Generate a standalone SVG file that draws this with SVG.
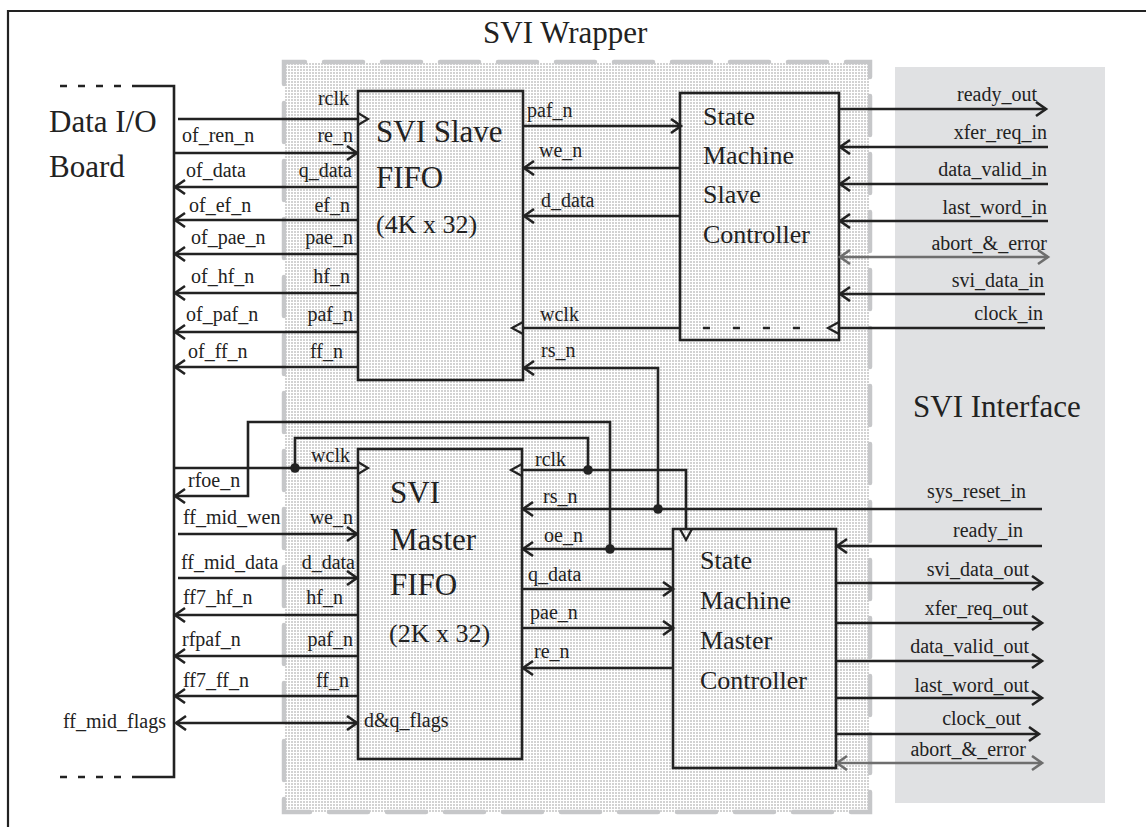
<svg xmlns="http://www.w3.org/2000/svg" width="1146" height="827" viewBox="0 0 1146 827">
<style>
text{font-family:"Liberation Serif","Times New Roman",serif;fill:#222}
.s{font-size:20px}
.b{font-size:31px}
.m{font-size:26px}
.e{text-anchor:end}
.ln{stroke:#222;stroke-width:2.6;fill:none}
.g{stroke:#6e6e6e;stroke-width:2.6;fill:none}
.box{stroke:#222;stroke-width:2.6;fill:none}
.ck{stroke:#222;stroke-width:2.2;fill:none;stroke-linejoin:miter}
.r{marker-end:url(#ar)}
.gr{marker-end:url(#ag);marker-start:url(#ag)}
.dd{marker-end:url(#ar);marker-start:url(#ar)}
</style>
<defs>
<pattern id="dots" width="3" height="3" patternUnits="userSpaceOnUse">
<rect width="3" height="3" fill="#fff"/>
<rect width="2" height="2" fill="#d2d2d2"/>
</pattern>
<marker id="ar" markerUnits="userSpaceOnUse" markerWidth="16" markerHeight="18" refX="11" refY="8" orient="auto-start-reverse" viewBox="0 0 16 18">
<path d="M1,1 L11,8 L1,15" fill="none" stroke="#222" stroke-width="2.6"/>
</marker>
<marker id="ag" markerUnits="userSpaceOnUse" markerWidth="16" markerHeight="18" refX="11" refY="8" orient="auto-start-reverse" viewBox="0 0 16 18">
<path d="M1,1 L11,8 L1,15" fill="none" stroke="#6e6e6e" stroke-width="2.6"/>
</marker>
</defs>
<rect width="1146" height="827" fill="#fff"/>
<path d="M8,830 V11 H1150" fill="none" stroke="#222" stroke-width="2.2"/>

<g id="svi-interface">
<rect x="895" y="67" width="210" height="736" fill="#e0e1e3"/>
<text class="b" x="913" y="417">SVI Interface</text>
</g>

<g id="svi-wrapper">
<rect x="284" y="62" width="586" height="750" fill="url(#dots)"/>
<rect x="284" y="62" width="586" height="750" fill="none" stroke="#c6c7c9" stroke-width="4.5" stroke-dasharray="39 19" stroke-dashoffset="18" stroke-linecap="round"/>
<text class="b" x="483" y="43">SVI Wrapper</text>
</g>

<g id="data-io-board">
<path class="ln" d="M60,86 H121 M60,777 H121" stroke-dasharray="7 11"/>
<path class="ln" d="M132,86 H174 V777 H132"/>
<text class="b" x="49" y="132">Data I/O</text>
<text class="b" x="49" y="177">Board</text>
</g>

<g id="slave-fifo">
<rect class="box" x="358" y="91" width="165" height="289"/>
<text class="b" x="376" y="142">SVI Slave</text>
<text class="b" x="376" y="188">FIFO</text>
<text class="m" x="376" y="233">(4K x 32)</text>
</g>

<g id="slave-sm">
<rect class="box" x="680" y="93" width="159" height="247"/>
<text class="m" x="703" y="125">State</text>
<text class="m" x="703" y="164">Machine</text>
<text class="m" x="703" y="203">Slave</text>
<text class="m" x="703" y="243">Controller</text>
<path class="ln" d="M703,328 H800" stroke-dasharray="7 23"/>
</g>

<g id="master-fifo">
<rect class="box" x="358" y="449" width="164" height="310"/>
<text class="b" x="390" y="503">SVI</text>
<text class="b" x="390" y="550">Master</text>
<text class="b" x="390" y="595">FIFO</text>
<text class="m" x="389" y="642">(2K x 32)</text>
</g>

<g id="master-sm">
<rect class="box" x="673" y="529" width="163" height="239"/>
<text class="m" x="700" y="569">State</text>
<text class="m" x="700" y="609">Machine</text>
<text class="m" x="700" y="649">Master</text>
<text class="m" x="700" y="689">Controller</text>
</g>

<g id="connectors">
<path class="ln" d="M178,119 H358"/>
<path class="ck" d="M358,113 L368,119 L358,125"/>
<path class="ln r" d="M175,153 H357"/>
<path class="ln r" d="M358,187 H175"/>
<path class="ln r" d="M358,220 H175"/>
<path class="ln r" d="M358,254 H175"/>
<path class="ln r" d="M358,293 H175"/>
<path class="ln r" d="M358,332 H175"/>
<path class="ln r" d="M358,367 H175"/>
<path class="ln r" d="M523,126 H681"/>
<path class="ln r" d="M680,168 H524"/>
<path class="ln r" d="M680,216 H524"/>
<path class="ln" d="M680,328 H523"/>
<path class="ck" d="M523,322 L512,328 L523,334"/>
<path class="ln r" d="M658,509 V368 H524"/>
<path class="ln r" d="M839,109 H1046"/>
<path class="ln r" d="M1048,147 H840"/>
<path class="ln r" d="M1048,184 H840"/>
<path class="ln r" d="M1048,221 H840"/>
<path class="g gr" d="M840,257 H1048"/>
<path class="ln r" d="M1045,294 H840"/>
<path class="ln" d="M1045,328 H839"/>
<path class="ck" d="M839,322 L828,328 L839,334"/>
<path class="ln" d="M174,468 H358"/>
<path class="ck" d="M358,462 L368,468 L358,474"/>
<path class="ln" d="M295,468 V438 H588 V470"/>
<path class="ln r" d="M610,549 V422 H248 V496 H175"/>
<path class="ln r" d="M178,534 H357"/>
<path class="ln r" d="M178,578 H357"/>
<path class="ln r" d="M358,615 H175"/>
<path class="ln r" d="M358,656 H175"/>
<path class="ln r" d="M358,696 H175"/>
<path class="ln dd" d="M176,723 H357"/>
<path class="ln" d="M522,470 H686 V529"/>
<path class="ck" d="M522,464 L511,470 L522,476"/>
<path class="ck" d="M680,529 L686,540 L692,529"/>
<path class="ln r" d="M1042,509 H523"/>
<path class="ln r" d="M673,549 H523"/>
<path class="ln r" d="M522,589 H673"/>
<path class="ln r" d="M522,628 H673"/>
<path class="ln r" d="M673,668 H523"/>
<path class="ln r" d="M1042,546 H837"/>
<path class="ln r" d="M836,583 H1042"/>
<path class="ln r" d="M836,623 H1042"/>
<path class="ln r" d="M836,661 H1042"/>
<path class="ln r" d="M836,698 H1042"/>
<path class="ln r" d="M836,734 H1039"/>
<path class="g gr" d="M837,763 H1042"/>
<circle cx="295" cy="468" r="4.8" fill="#222"/>
<circle cx="588" cy="470" r="4.8" fill="#222"/>
<circle cx="610" cy="549" r="4.8" fill="#222"/>
<circle cx="658" cy="509" r="4.8" fill="#222"/>
</g>

<g id="labels">
<text class="s e" x="349" y="105">rclk</text>
<text class="s" x="182" y="142">of_ren_n</text>
<text class="s e" x="353" y="142">re_n</text>
<text class="s" x="186" y="177">of_data</text>
<text class="s e" x="352" y="177">q_data</text>
<text class="s" x="189" y="212">of_ef_n</text>
<text class="s e" x="350" y="212">ef_n</text>
<text class="s" x="191" y="244">of_pae_n</text>
<text class="s e" x="353" y="244">pae_n</text>
<text class="s" x="191" y="283">of_hf_n</text>
<text class="s e" x="350" y="283">hf_n</text>
<text class="s" x="186" y="321">of_paf_n</text>
<text class="s e" x="353" y="321">paf_n</text>
<text class="s" x="188" y="358">of_ff_n</text>
<text class="s e" x="343" y="358">ff_n</text>

<text class="s" x="527" y="117">paf_n</text>
<text class="s" x="539" y="157">we_n</text>
<text class="s" x="541" y="207">d_data</text>
<text class="s" x="540" y="321">wclk</text>
<text class="s" x="541" y="357">rs_n</text>

<text class="s e" x="1037" y="101">ready_out</text>
<text class="s e" x="1047" y="139">xfer_req_in</text>
<text class="s e" x="1047" y="176">data_valid_in</text>
<text class="s e" x="1047" y="214">last_word_in</text>
<text class="s e" x="1047" y="250">abort_&amp;_error</text>
<text class="s e" x="1044" y="287">svi_data_in</text>
<text class="s e" x="1043" y="320">clock_in</text>

<text class="s e" x="350" y="462">wclk</text>
<text class="s" x="188" y="487">rfoe_n</text>
<text class="s" x="183" y="524">ff_mid_wen</text>
<text class="s e" x="353" y="524">we_n</text>
<text class="s" x="181" y="569">ff_mid_data</text>
<text class="s e" x="355" y="569">d_data</text>
<text class="s" x="183" y="604">ff7_hf_n</text>
<text class="s e" x="343" y="604">hf_n</text>
<text class="s" x="182" y="646">rfpaf_n</text>
<text class="s e" x="353" y="646">paf_n</text>
<text class="s" x="183" y="687">ff7_ff_n</text>
<text class="s e" x="349" y="687">ff_n</text>
<text class="s e" x="166" y="728">ff_mid_flags</text>
<text class="s" x="364" y="727">d&amp;q_flags</text>

<text class="s" x="535" y="466">rclk</text>
<text class="s" x="543" y="503">rs_n</text>
<text class="s" x="544" y="542">oe_n</text>
<text class="s" x="528" y="581">q_data</text>
<text class="s" x="530" y="619">pae_n</text>
<text class="s" x="534" y="658">re_n</text>

<text class="s e" x="1026" y="498">sys_reset_in</text>
<text class="s e" x="1023" y="537">ready_in</text>
<text class="s e" x="1029" y="576">svi_data_out</text>
<text class="s e" x="1028" y="615">xfer_req_out</text>
<text class="s e" x="1029" y="653">data_valid_out</text>
<text class="s e" x="1029" y="692">last_word_out</text>
<text class="s e" x="1021" y="725">clock_out</text>
<text class="s e" x="1026" y="756">abort_&amp;_error</text>
</g>
</svg>
